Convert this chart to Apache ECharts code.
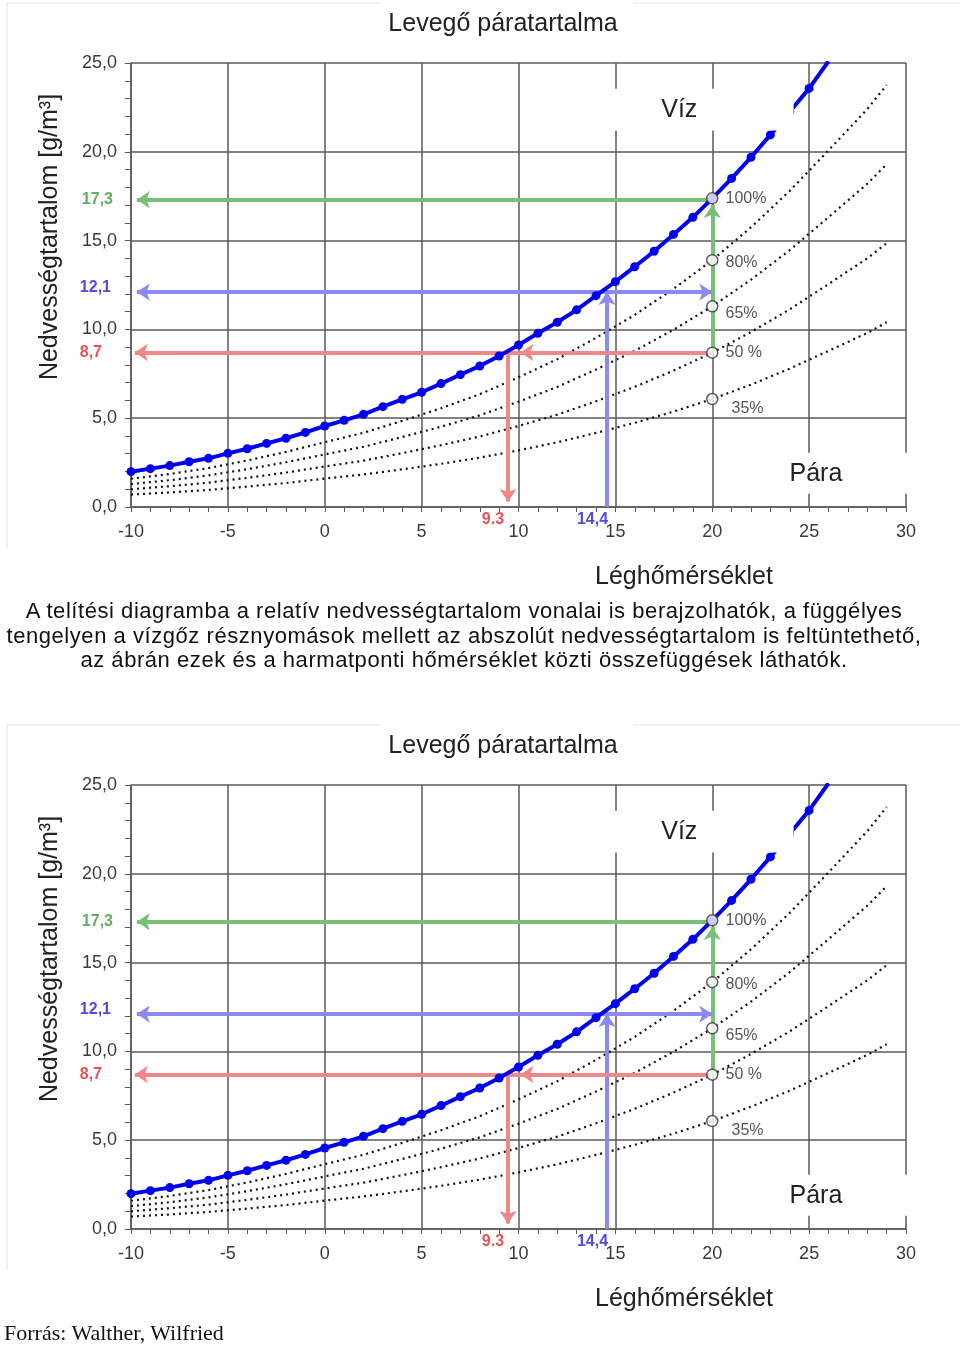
<!DOCTYPE html>
<html><head><meta charset="utf-8">
<script src="https://cdn.jsdelivr.net/npm/echarts@6/dist/echarts.min.js"></script>
<style>
html,body{margin:0;padding:0;background:#fff;}
#c{position:absolute;left:0;top:0;width:960px;height:1346px;}
.cap{position:absolute;left:0;top:599px;width:928px;text-align:center;font-family:"Liberation Sans",Arial,sans-serif;font-size:22px;letter-spacing:0.55px;line-height:24.5px;color:#111;white-space:nowrap;}
.src{position:absolute;left:4px;top:1321px;font-family:"Liberation Serif","Times New Roman",serif;font-size:22px;line-height:24px;color:#111;}
</style></head><body>
<div id="c"></div>
<div class="cap">A telítési diagramba a relatív nedvességtartalom vonalai is berajzolhatók, a függélyes<br>tengelyen a vízgőz résznyomások mellett az abszolút nedvességtartalom is feltüntethető,<br>az ábrán ezek és a harmatponti hőmérséklet közti összefüggések láthatók.</div>
<div class="src">Forrás: Walther, Wilfried</div>
<script>
// ---- data ----
const temps = [-10,-9,-8,-7,-6,-5,-4,-3,-2,-1,0,1,2,3,4,5,6,7,8,9,10,11,12,13,14,15,16,17,18,19,20,21,22,23,24,25,26];
const saturation = [1.99,2.16,2.33,2.55,2.74,3.02,3.28,3.58,3.87,4.2,4.56,4.88,5.22,5.65,6.06,6.46,6.95,7.45,7.94,8.5,9.12,9.78,10.4,11.1,11.9,12.69,13.53,14.4,15.35,16.31,17.38,18.5,19.69,20.95,22.25,23.57,25.1];
const rhX  = [-10,-8,-6,-4,-2,0,2,4,6,8,10,12,14,16,18,20,22,24,26,28,29];
const rh80 = [1.59,1.86,2.19,2.62,3.1,3.65,4.18,4.85,5.56,6.35,7.3,8.32,9.52,10.82,12.28,13.9,15.75,17.8,20.08,22.4,23.76];
const rh65 = [1.29,1.51,1.78,2.13,2.52,2.96,3.39,3.94,4.52,5.16,5.93,6.76,7.74,8.79,9.98,11.3,12.8,14.46,16.32,18.2,19.3];
const rh50 = [1.0,1.17,1.37,1.64,1.94,2.28,2.61,3.03,3.48,3.97,4.56,5.2,5.95,6.77,7.68,8.69,9.85,11.13,12.55,14.0,14.85];
const rh35 = [0.7,0.82,0.96,1.15,1.35,1.6,1.83,2.12,2.43,2.78,3.19,3.64,4.17,4.74,5.37,6.08,6.89,7.79,8.79,9.8,10.4];
const rhLabels = ['100%','80%','65%','50 %','35%'];
const rhAt20 = [17.38,13.9,11.3,8.69,6.08];
const airTemp = 20;
const readHumidity = {green:17.3, blue:12.1, red:8.7};
const readHumidityText = {green:'17,3', blue:'12,1', red:'8,7'};
const dewTemp = {red:9.46, blue:14.57};
const dewTempText = {red:'9.3', blue:'14,4'};
const xMin=-10, xMax=30, xStep=5, yMin=0, yMax=25, yStep=5;

const COL = {green:'#78c078', blue:'#8a8af0', red:'#f08888'};
const TXT = {green:'#3a9a3a', blue:'#2020d0', red:'#e02828'};
const FONT = '"Liberation Sans", Arial, sans-serif';

const chart = echarts.init(document.getElementById('c'), null, {renderer:'canvas'});
const offsets = [0, 722];

function mkX(g){
  return {gridIndex:g, type:'value', min:xMin, max:xMax, interval:xStep,
    axisLine:{onZero:false, lineStyle:{color:'#5a5a5a', width:1.5}},
    axisTick:{show:true, length:5, lineStyle:{color:'#5a5a5a'}},
    minorTick:{show:true, splitNumber:5, length:5, lineStyle:{color:'#5a5a5a'}},
    splitLine:{show:true, lineStyle:{color:'#5a5a5a', width:1.5}},
    axisLabel:{color:'#3a3a3a', fontSize:18, fontFamily:FONT, margin:16}};
}
function mkY(g){
  return {gridIndex:g, type:'value', min:yMin, max:yMax, interval:yStep,
    axisLine:{show:true, onZero:false, lineStyle:{color:'#5a5a5a', width:1.5}},
    axisTick:{show:true, length:6, lineStyle:{color:'#5a5a5a'}},
    minorTick:{show:true, splitNumber:5, length:6, lineStyle:{color:'#5a5a5a'}},
    splitLine:{show:true, lineStyle:{color:'#5a5a5a', width:1.5}},
    axisLabel:{color:'#3a3a3a', fontSize:18, fontFamily:FONT, margin:14,
      formatter:v=>v.toFixed(1).replace('.',',')}};
}
function arrow(from, to, color, startSym, endSym){
  const ls = {color:color, width:4, type:'solid', opacity:1};
  return [{coord:from, symbol:startSym||'none', symbolSize:13, lineStyle:ls},
          {coord:to, symbol:endSym||'arrow', symbolSize:13, lineStyle:ls}];
}
function seriesFor(g){
  const ax = {xAxisIndex:g, yAxisIndex:g};
  const dotted = (arr)=>Object.assign({type:'line', data:rhX.map((x,i)=>[x,arr[i]]), symbol:'none',
      lineStyle:{color:'#111', width:2.2, type:[2,4]}, z:3, silent:true}, ax);
  const s = [];
  s.push(dotted(rh80), dotted(rh65), dotted(rh50), dotted(rh35));
  s.push(Object.assign({type:'line', data:[], z:4, markLine:{silent:true, animation:false,
    label:{show:false},
    data:[
      arrow([airTemp,readHumidity.green],[xMin+0.3,readHumidity.green],COL.green),
      arrow([airTemp,readHumidity.red],[airTemp,readHumidity.green-0.3],COL.green),
      arrow([airTemp-0.1,readHumidity.blue],[xMin+0.3,readHumidity.blue],COL.blue),
      arrow([xMin+1,readHumidity.blue],[airTemp,readHumidity.blue],COL.blue,'none','arrow'),
      arrow([dewTemp.blue,yMin],[dewTemp.blue,readHumidity.blue],COL.blue),
      arrow([airTemp,readHumidity.red],[xMin+0.2,readHumidity.red],COL.red),
      arrow([airTemp,readHumidity.red],[10.1,readHumidity.red],COL.red),
      arrow([dewTemp.red,readHumidity.red],[dewTemp.red,yMin+0.3],COL.red)
    ]}}, ax));
  s.push(Object.assign({type:'line', data:temps.map((t,i)=>[t,saturation[i]]), symbol:'circle', symbolSize:9,
    showAllSymbol:true, itemStyle:{color:'#0000ee'}, lineStyle:{color:'#0000ee', width:4}, z:6, silent:true}, ax));
  const offs = [[0,0],[0,2],[0,7],[0,0],[6,10]];
  s.push(Object.assign({type:'scatter', z:8, silent:true, symbol:'circle', symbolSize:11,
    itemStyle:{color:'#fff', borderColor:'#333', borderWidth:1.5},
    data:rhAt20.map((v,i)=>({value:[airTemp,v], label:{show:true, position:'right', distance:7, offset:offs[i],
      formatter:rhLabels[i], color:'#2a2a2a', fontSize:16, fontFamily:FONT}}))}, ax));
  const hk = ['green','blue','red'];
  const hoff = [[-18,0],[-20,-5],[-29,0]];
  s.push(Object.assign({type:'scatter', z:8, silent:true, symbolSize:0,
    data:hk.map((k,i)=>({value:[xMin,readHumidity[k]], label:{show:true, position:'left', distance:0, offset:hoff[i],
      formatter:readHumidityText[k], color:TXT[k], fontWeight:'bold', fontSize:16, fontFamily:FONT}}))}, ax));
  const dk = ['red','blue'];
  s.push(Object.assign({type:'scatter', z:8, silent:true, symbolSize:0,
    data:dk.map((k,i)=>({value:[dewTemp[k],yMin], label:{show:true, position:'left', distance:0, offset:[k==='red'?-4:1,13],
      formatter:dewTempText[k], color:TXT[k], fontWeight:'bold', fontSize:16, fontFamily:FONT}}))}, ax));
  return s;
}

const grids = offsets.map(dy=>({left:131, top:63+dy, width:775, height:444}));
chart.setOption({
  animation:false,
  grid:grids,
  xAxis:[mkX(0), mkX(1)],
  yAxis:[mkY(0), mkY(1)],
  series:[...seriesFor(0), ...seriesFor(1)]
});

const graphics = [];
const T = (x,y,text,size,extra)=>Object.assign({type:'text', z:60, x:x, y:y,
  style:{text:text, fontSize:size, fontFamily:FONT, fill:'#222', align:'center', verticalAlign:'middle', textAlign:'center', textVerticalAlign:'middle'}}, extra||{});
offsets.forEach((dy,g)=>{
  const p = (x,y)=>chart.convertToPixel({gridIndex:g},[x,y]);
  const faint = {stroke:'#e2e2e2', lineWidth:1};
  graphics.push({type:'line', z:1, shape:{x1:7,y1:3+dy,x2:380,y2:3+dy}, style:faint});
  graphics.push({type:'line', z:1, shape:{x1:633,y1:3+dy,x2:960,y2:3+dy}, style:faint});
  graphics.push({type:'line', z:1, shape:{x1:7,y1:3+dy,x2:7,y2:548+dy}, style:faint});
  graphics.push(T(503, 24+dy, 'Levegő páratartalma', 25));
  graphics.push(T(50, 237+dy, 'Nedvességtartalom [g/m³]', 25, {rotation:Math.PI/2}));
  graphics.push(T(684, 577+dy, 'Léghőmérséklet', 25));
  const a = p(12,23.55), b = p(24.2,21.2);
  graphics.push({type:'rect', z:50, shape:{x:a[0], y:a[1], width:b[0]-a[0], height:b[1]-a[1]}, style:{fill:'#fff'}});
  const c = p(20.3,3.05), d = p(30.4,0.75);
  graphics.push({type:'rect', z:50, shape:{x:c[0], y:c[1], width:d[0]-c[0], height:d[1]-c[1]}, style:{fill:'#fff'}});
  const v = p(18.3,22.35), q = p(25.35,1.85);
  graphics.push(T(v[0], v[1], 'Víz', 25));
  graphics.push(T(q[0], q[1], 'Pára', 25));
});
chart.setOption({graphic:{elements:graphics}});
</script>
</body></html>
